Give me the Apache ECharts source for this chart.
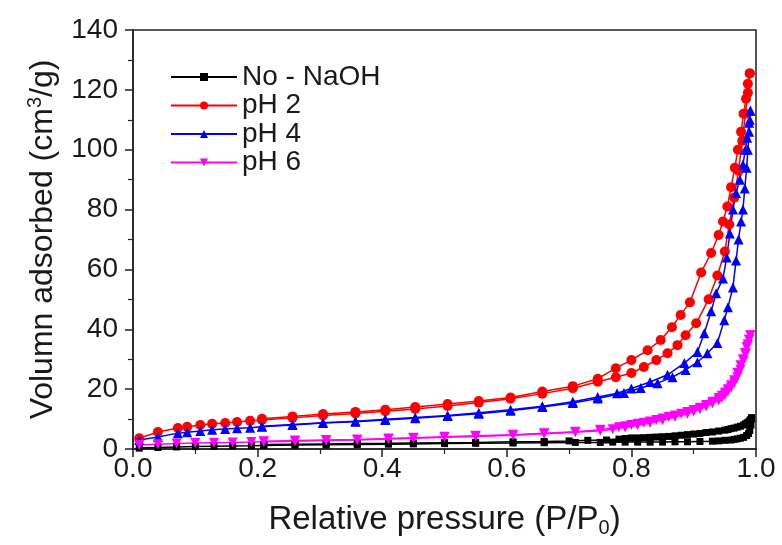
<!DOCTYPE html>
<html>
<head>
<meta charset="utf-8">
<script src="https://cdn.jsdelivr.net/npm/echarts@6/dist/echarts.min.js"></script>
<style>
  html, body { margin: 0; padding: 0; background: #fff; }
  #main { width: 782px; height: 545px; }
</style>
</head>
<body>
<div id="main"></div>
<script>
// legend names
const seriesNames = ["No - NaOH", "pH 2", "pH 4", "pH 6"];

// No - NaOH (black squares)
const blackAdsP = [0.01, 0.04, 0.07, 0.10, 0.13, 0.16, 0.19, 0.21, 0.26, 0.31, 0.36, 0.41, 0.45, 0.50, 0.55, 0.61, 0.66, 0.71, 0.75, 0.77, 0.79, 0.81, 0.83, 0.85, 0.87, 0.89, 0.91, 0.93, 0.94, 0.95, 0.96, 0.965, 0.97, 0.975, 0.98, 0.985, 0.988, 0.99, 0.992, 0.993];
const blackAdsV = [0.3, 0.5, 0.7, 0.8, 0.9, 1.0, 1.1, 1.2, 1.3, 1.4, 1.5, 1.6, 1.7, 1.8, 1.9, 2.0, 2.1, 2.2, 2.2, 2.3, 2.3, 2.3, 2.3, 2.3, 2.4, 2.4, 2.5, 2.6, 2.7, 2.9, 3.0, 3.2, 3.4, 3.6, 3.9, 4.5, 5.2, 6.2, 8.0, 10.0];
const blackDesP = [0.993, 0.991, 0.989, 0.986, 0.983, 0.98, 0.975, 0.97, 0.965, 0.96, 0.955, 0.95, 0.94, 0.93, 0.92, 0.91, 0.90, 0.89, 0.88, 0.87, 0.86, 0.85, 0.84, 0.83, 0.82, 0.81, 0.80, 0.79, 0.78, 0.76, 0.73, 0.70, 0.66, 0.61, 0.55, 0.50, 0.45, 0.41, 0.36, 0.31, 0.26, 0.21];
const blackDesV = [10.5, 9.8, 9.3, 8.8, 8.4, 8.0, 7.6, 7.3, 7.0, 6.8, 6.5, 6.3, 6.0, 5.7, 5.5, 5.2, 5.0, 4.8, 4.6, 4.4, 4.2, 4.1, 4.0, 3.9, 3.8, 3.7, 3.7, 3.5, 3.3, 3.0, 2.9, 2.7, 2.5, 2.4, 2.2, 2.1, 2.0, 1.9, 1.8, 1.7, 1.6, 1.5];

// pH 2 (red circles)
const redAdsP = [0.010, 0.040, 0.072, 0.087, 0.108, 0.127, 0.148, 0.167, 0.188, 0.207, 0.256, 0.305, 0.357, 0.405, 0.453, 0.505, 0.555, 0.606, 0.657, 0.706, 0.746, 0.775, 0.800, 0.820, 0.840, 0.858, 0.874, 0.887, 0.904, 0.924, 0.938, 0.950, 0.957, 0.965, 0.972, 0.978, 0.983, 0.987, 0.990];
const redAdsV = [3.6, 5.7, 7.0, 7.4, 8.0, 8.4, 8.7, 9.0, 9.4, 9.7, 10.4, 11.2, 11.9, 12.6, 13.4, 14.4, 15.5, 16.8, 18.5, 20.3, 22.5, 24.0, 25.4, 27.4, 29.7, 32.0, 34.7, 38.0, 42.0, 50.0, 58.0, 66.0, 75.0, 84.0, 93.0, 103.0, 112.0, 119.0, 125.5];
const redDesP = [0.990, 0.987, 0.984, 0.980, 0.976, 0.971, 0.966, 0.960, 0.954, 0.947, 0.940, 0.928, 0.912, 0.894, 0.879, 0.865, 0.847, 0.826, 0.800, 0.775, 0.746, 0.706, 0.657, 0.606, 0.555, 0.505, 0.453, 0.405, 0.357, 0.305, 0.256, 0.207];
const redDesV = [125.5, 122.0, 117.0, 112.0, 106.0, 100.0, 94.0, 87.5, 81.0, 76.0, 71.5, 65.5, 59.0, 49.0, 44.8, 40.7, 36.4, 33.0, 29.7, 27.0, 23.5, 21.0, 19.2, 17.2, 16.0, 15.0, 14.0, 13.1, 12.4, 11.7, 10.9, 10.1];

// pH 4 (blue triangles)
const blueAdsP = [0.010, 0.040, 0.072, 0.087, 0.108, 0.127, 0.148, 0.167, 0.188, 0.207, 0.256, 0.305, 0.357, 0.405, 0.453, 0.505, 0.555, 0.606, 0.657, 0.706, 0.746, 0.788, 0.815, 0.842, 0.866, 0.887, 0.906, 0.922, 0.938, 0.949, 0.955, 0.963, 0.968, 0.972, 0.976, 0.979, 0.982, 0.985, 0.987, 0.989, 0.990, 0.991];
const blueAdsV = [3.0, 4.0, 5.3, 5.6, 6.0, 6.4, 6.7, 6.9, 7.1, 7.4, 8.0, 8.7, 9.1, 9.7, 10.3, 11.0, 11.8, 12.8, 14.0, 15.4, 16.9, 18.7, 20.4, 22.0, 24.0, 26.4, 29.0, 32.0, 35.4, 43.0, 47.4, 54.0, 63.0, 70.0, 76.0, 80.0, 87.0, 94.0, 100.0, 106.0, 110.0, 113.0];
const blueDesP = [0.991, 0.989, 0.986, 0.983, 0.979, 0.974, 0.968, 0.963, 0.958, 0.953, 0.947, 0.936, 0.928, 0.917, 0.906, 0.885, 0.858, 0.830, 0.800, 0.777, 0.746, 0.706, 0.657, 0.606, 0.555, 0.505, 0.453, 0.405, 0.357, 0.305, 0.256, 0.207];
const blueDesV = [113.0, 109.0, 104.0, 100.0, 95.0, 90.0, 85.5, 80.0, 72.0, 64.0, 57.0, 52.0, 46.0, 38.7, 32.4, 28.7, 24.8, 22.4, 20.2, 18.6, 17.4, 15.8, 14.3, 13.1, 12.1, 11.2, 10.5, 9.9, 9.3, 8.8, 8.2, 7.6];

// pH 6 (magenta inverted triangles)
const pinkAdsP = [0.01, 0.04, 0.07, 0.10, 0.13, 0.16, 0.19, 0.21, 0.26, 0.31, 0.36, 0.41, 0.45, 0.50, 0.55, 0.61, 0.66, 0.71, 0.75, 0.77, 0.79, 0.81, 0.83, 0.85, 0.87, 0.89, 0.90, 0.91, 0.92, 0.93, 0.94, 0.945, 0.95, 0.955, 0.96, 0.965, 0.97, 0.975, 0.98, 0.984, 0.987, 0.989, 0.991];
const pinkAdsV = [1.3, 1.6, 1.8, 2.0, 2.1, 2.2, 2.3, 2.4, 2.6, 2.8, 3.0, 3.3, 3.6, 3.9, 4.2, 4.6, 5.1, 5.6, 6.1, 6.6, 7.2, 7.9, 8.7, 9.6, 10.7, 11.8, 12.5, 13.3, 14.2, 15.2, 16.2, 17.0, 18.0, 19.2, 20.5, 22.0, 24.0, 26.5, 29.5, 32.0, 34.5, 36.5, 38.0];
const pinkDesP = [0.991, 0.989, 0.987, 0.985, 0.982, 0.979, 0.975, 0.97, 0.965, 0.96, 0.955, 0.95, 0.945, 0.94, 0.93, 0.92, 0.91, 0.90, 0.89, 0.88, 0.87, 0.86, 0.85, 0.84, 0.83, 0.82, 0.81, 0.80, 0.79, 0.78, 0.75, 0.71, 0.66, 0.61, 0.55, 0.50, 0.45, 0.41, 0.36, 0.31, 0.26, 0.21];
const pinkDesV = [38.0, 36.5, 35.0, 34.0, 32.0, 30.0, 28.0, 25.5, 23.0, 21.3, 20.0, 18.8, 17.8, 17.0, 15.8, 14.7, 13.8, 13.0, 12.4, 11.8, 11.2, 10.7, 10.2, 9.7, 9.2, 8.8, 8.4, 8.0, 7.6, 7.3, 6.4, 5.8, 5.3, 4.8, 4.4, 4.1, 3.8, 3.5, 3.2, 3.0, 2.8, 2.6];

const zip = (xs, ys) => xs.map((x, i) => [x, ys[i]]);

const textColor = "#1a1a1a";
const font = "Liberation Sans";

function branch(name, color, symbol, size, p, v, rotate) {
  return {
    name: name,
    type: "line",
    data: zip(p, v),
    symbol: symbol,
    symbolSize: size,
    symbolRotate: rotate || 0,
    showAllSymbol: true,
    lineStyle: { color: color, width: 1.5 },
    itemStyle: { color: color },
    emphasis: { disabled: true },
    animation: false
  };
}

let myChart = echarts.init(document.getElementById("main"));
myChart.setOption({
  backgroundColor: "#fff",
  grid: {
    left: 133, right: 26, top: 30, bottom: 96,
    show: true, borderColor: "#222", borderWidth: 1.5, backgroundColor: "transparent"
  },
  legend: {
    data: seriesNames,
    orient: "vertical",
    left: 165, top: 58,
    itemWidth: 66, itemHeight: 10, itemGap: 0.5,
    textStyle: { fontFamily: font, fontSize: 28, lineHeight: 28, color: textColor }
  },
  xAxis: {
    type: "value",
    min: 0, max: 1, interval: 0.2,
    name: "{a|Relative pressure (P/P}{sub|0}{a|)}",
    nameLocation: "middle",
    nameGap: 53,
    nameTextStyle: {
      rich: {
        a: { fontFamily: font, fontSize: 33, color: textColor, lineHeight: 36 },
        sub: { fontFamily: font, fontSize: 20, color: textColor, verticalAlign: "bottom" }
      }
    },
    axisLine: { lineStyle: { color: "#222", width: 1.5 } },
    axisTick: { show: true, inside: false, length: 8, lineStyle: { color: "#222", width: 1.5 } },
    minorTick: { show: true, splitNumber: 2, length: 5, lineStyle: { color: "#222", width: 1.2 } },
    splitLine: { show: false },
    axisLabel: {
      fontFamily: font, fontSize: 28, color: textColor, margin: 6,
      formatter: (v) => v.toFixed(1)
    }
  },
  yAxis: {
    type: "value",
    min: 0, max: 140, interval: 20,
    name: "{a|Volumn adsorbed (cm}{sup|3}{a|/g)}",
    nameLocation: "middle",
    nameRotate: 90,
    nameGap: 72,
    nameTextStyle: {
      rich: {
        a: { fontFamily: font, fontSize: 32, color: textColor, lineHeight: 36 },
        sup: { fontFamily: font, fontSize: 20, color: textColor, verticalAlign: "top" }
      }
    },
    axisLine: { show: true, lineStyle: { color: "#222", width: 1.5 } },
    axisTick: { show: true, inside: false, length: 8, lineStyle: { color: "#222", width: 1.5 } },
    minorTick: { show: true, splitNumber: 2, length: 5, lineStyle: { color: "#222", width: 1.2 } },
    splitLine: { show: false },
    axisLabel: { fontFamily: font, fontSize: 28, color: textColor, margin: 15 }
  },
  series: [
    branch(seriesNames[0], "#000000", "rect", 7, blackAdsP, blackAdsV),
    branch(seriesNames[0], "#000000", "rect", 7, blackDesP, blackDesV),
    branch(seriesNames[1], "#ff0000", "circle", 10, redAdsP, redAdsV),
    branch(seriesNames[1], "#ff0000", "circle", 10, redDesP, redDesV),
    branch(seriesNames[2], "#0000ff", "triangle", 10, blueAdsP, blueAdsV),
    branch(seriesNames[2], "#0000ff", "triangle", 10, blueDesP, blueDesV),
    branch(seriesNames[3], "#ff00ff", "triangle", 10, pinkAdsP, pinkAdsV, 180),
    branch(seriesNames[3], "#ff00ff", "triangle", 10, pinkDesP, pinkDesV, 180)
  ]
});
</script>
</body>
</html>
